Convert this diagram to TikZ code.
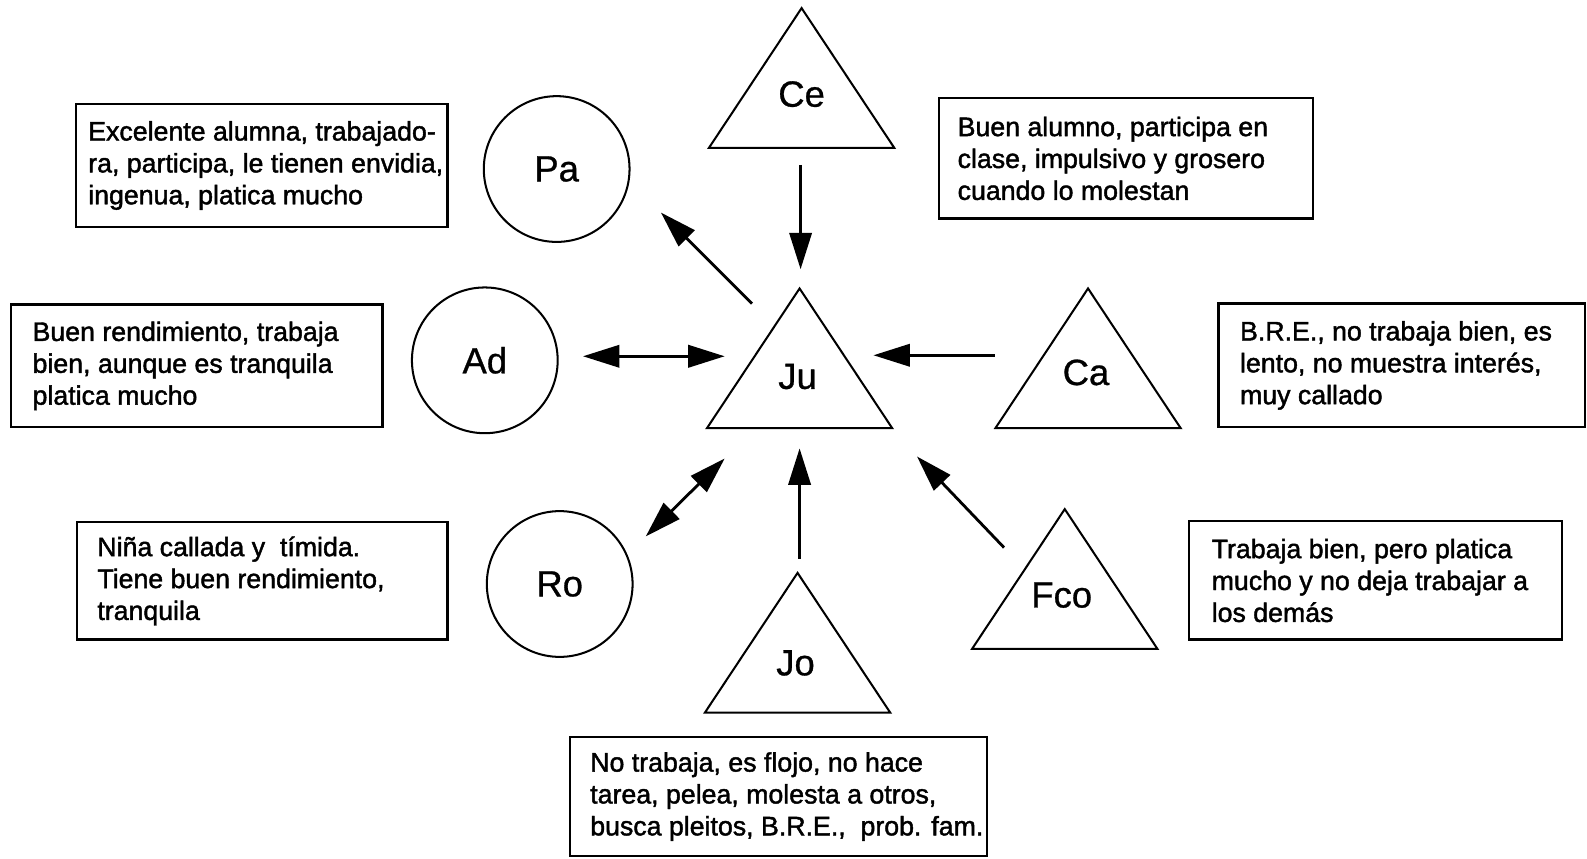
\documentclass[tikz,border=0pt]{standalone}
\usepackage{fontspec}
\setmainfont{Liberation Sans}
\newfontfamily\notefont[FakeBold=1.6]{Liberation Sans}
\newfontfamily\tagfont[FakeBold=0.8]{Liberation Sans}
\usetikzlibrary{arrows.meta,calc}

\tikzset{
  person/.style={circle, draw, line width=1pt, minimum size=72pt, inner sep=0pt, font=\tagfont\fontsize{18}{20}\selectfont},
  tag/.style={inner sep=0pt, font=\tagfont\fontsize{18}{20}\selectfont},
  notebox/.style={draw, line width=1.2pt, inner sep=0pt},
  notetext/.style={anchor=west, inner sep=0pt, align=left, font=\notefont\fontsize{13.2}{15.75}\selectfont},
  link/.style={line width=1.4pt, -{Triangle[length=18pt,width=11pt]}},
  both/.style={line width=1.4pt, {Triangle[length=18pt,width=11pt]}-{Triangle[length=18pt,width=11pt]}},
  tri/.pic={\draw[line width=1pt] (0,0) -- (91.5,138) -- (-91.5,138) -- cycle;}
}

\begin{document}
\begin{tikzpicture}[x=0.5pt, y=-0.5pt]
\useasboundingbox (0,0) rectangle (1568,848);

% girls: circles
\node[person] (Pa) at (550,167) {Pa};
\node[person] (Ad) at (479,356) {Ad};
\node[person] (Ro) at (553,577) {Ro};

% boys: triangles (apex given) and their names
\pic at (792,8) {tri};
\node[tag] (Ce) at (792,93) {Ce};
\pic at (790,285) {tri};
\node[tag] (Ju) at (788,372) {Ju};
\pic at (1075,285) {tri};
\node[tag] (Ca) at (1073,368) {Ca};
\pic at (1052,503) {tri};
\node[tag] (Fco) at (1049,588) {Fco};
\pic at (788,566) {tri};
\node[tag] (Jo) at (786,655) {Jo};

% note boxes
\node[notebox, minimum width=183.5pt, minimum height=60.5pt] (paBox) at (258.5,163.5) {};
\node[notetext] (paText) at ([xshift=6.5pt]paBox.west) {Excelente alumna, trabajado-\\ra, participa, le tienen envidia,\\ingenua, platica mucho};

\node[notebox, minimum width=184.5pt, minimum height=59.5pt] (ceBox) at (1112.5,156.5) {};
\node[notetext] (ceText) at ([xshift=9.5pt]ceBox.west) {Buen alumno, participa en\\clase, impulsivo y grosero\\cuando lo molestan};

\node[notebox, minimum width=183.5pt, minimum height=60.5pt] (adBox) at (194.5,361.5) {};
\node[notetext] (adText) at ([xshift=11pt]adBox.west) {Buen rendimiento, trabaja\\bien, aunque es tranquila\\platica mucho};

\node[notebox, minimum width=181pt, minimum height=61pt] (caBox) at (1385,361) {};
\node[notetext] (caText) at ([xshift=11pt]caBox.west) {B.R.E., no trabaja bien, es\\lento, no muestra interés,\\muy callado};

\node[notebox, minimum width=183pt, minimum height=58pt] (roBox) at (259,574) {};
\node[notetext] (roText) at ([xshift=10.5pt]roBox.west) {Niña callada y\ \ tímida.\\Tiene buen rendimiento,\\tranquila};

\node[notebox, minimum width=184pt, minimum height=58.5pt] (fcoBox) at (1359,573.5) {};
\node[notetext] (fcoText) at ([xshift=11.5pt]fcoBox.west) {Trabaja bien, pero platica\\mucho y no deja trabajar a\\los demás};

\node[notebox, minimum width=206pt, minimum height=59pt] (joBox) at (769,787) {};
\node[notetext] (joText) at ([xshift=10.5pt]joBox.west) {No trabaja, es flojo, no hace\\tarea, pelea, molesta a otros,\\busca pleitos, B.R.E.,\ \ prob. fam.};

% arrow ends (free, in the gaps between the figures)
\coordinate (ceOut) at (791,163);
\coordinate (juTop) at (791,266);
\coordinate (juNW) at (743,300);
\coordinate (paIn) at (653,210);
\coordinate (adEnd) at (576,352);
\coordinate (juW) at (716,352);
\coordinate (caOut) at (983,351);
\coordinate (juE) at (863,351);
\coordinate (roEnd) at (638,530);
\coordinate (juSW) at (716,453);
\coordinate (joOut) at (790,552);
\coordinate (juS) at (790,443);
\coordinate (fcoOut) at (992,541);
\coordinate (juSE) at (906,451);

% relations
\draw[link] (ceOut) -- (juTop);
\draw[link] (juNW) -- (paIn);
\draw[both] (adEnd) -- (juW);
\draw[link] (caOut) -- (juE);
\draw[both] (roEnd) -- (juSW);
\draw[link] (joOut) -- (juS);
\draw[link] (fcoOut) -- (juSE);
\end{tikzpicture}
\end{document}
